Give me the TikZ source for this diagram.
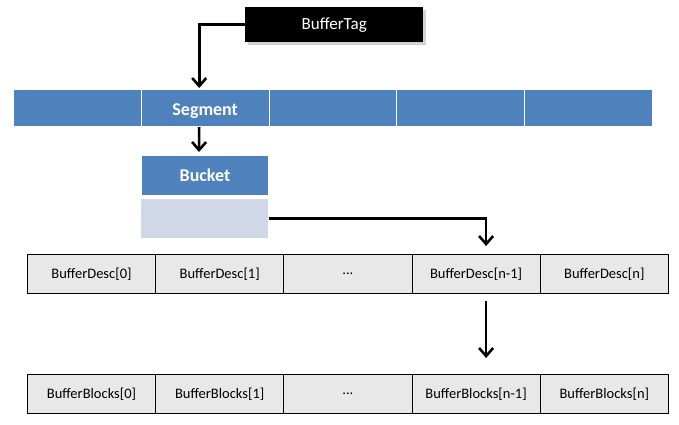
\documentclass[tikz,border=0pt]{standalone}
\usepackage{fontspec}
\setmainfont{Carlito}
\usetikzlibrary{arrows.meta}
\definecolor{segblue}{HTML}{4F81BD}
\definecolor{lightblue}{HTML}{D0D8E8}
\definecolor{cellgray}{HTML}{E8E8E8}
\begin{document}
\begin{tikzpicture}[x=1pt,y=-1pt,
  seg/.style={fill=segblue, draw=white, line width=1pt, minimum width=127.8pt, minimum height=37pt, inner sep=0pt, text=white, font=\fontsize{18}{20}\selectfont\bfseries, anchor=north west},
  cell/.style={fill=cellgray, draw=black, line width=0.8pt, minimum width=128.2pt, minimum height=39pt, inner sep=0pt, font=\fontsize{14.5}{16}\selectfont, anchor=north west},
  arr/.style={line width=2.6pt, -{Straight Barb[length=8pt,width=14pt]}}]
\useasboundingbox (0,0) rectangle (679,425);
% BufferTag
\fill[gray!35] (248,10) rectangle (426,45);
\node[fill=black, text=white, minimum width=178pt, minimum height=35pt, inner sep=0pt, anchor=north west, font=\fontsize{17}{19}\selectfont] (tag) at (245,7) {BufferTag};
% Segment row
\foreach \i/\t in {0/,1/Segment,2/,3/,4/}
  \node[seg] (s\i) at ({13+127.8*\i},89) {\raisebox{-7pt}[0pt][0pt]{\t}};
% Bucket
\node[seg, minimum width=127pt, minimum height=40pt] (bucket) at (141,155) {Bucket};
\node[fill=lightblue, minimum width=127pt, minimum height=39pt, inner sep=0pt, anchor=north west] (light) at (141,199) {};
% BufferDesc row
\foreach \i/\t in {0/{BufferDesc[0]},1/{BufferDesc[1]},2/{...},3/{BufferDesc[n-1]},4/{BufferDesc[n]}}
  \node[cell] (d\i) at ({27+128.2*\i},254) {\t};
% BufferBlocks row
\foreach \i/\t in {0/{BufferBlocks[0]},1/{BufferBlocks[1]},2/{...},3/{BufferBlocks[n-1]},4/{BufferBlocks[n]}}
  \node[cell] (b\i) at ({27+128.2*\i},374) {\t};
% Connectors
\draw[arr] (tag.west) -| ([xshift=-6pt,yshift=1pt]s1.north);
\draw[arr] ([xshift=-6pt]s1.south) -- ([xshift=-6pt,yshift=3pt]bucket.north);
\draw[arr] ([xshift=1pt]light.east) -| ([xshift=10pt,yshift=8pt]d3.north);
\draw[arr] ([xshift=10pt,yshift=-7pt]d3.south) -- ([xshift=10pt,yshift=16pt]b3.north);
\end{tikzpicture}
\end{document}
